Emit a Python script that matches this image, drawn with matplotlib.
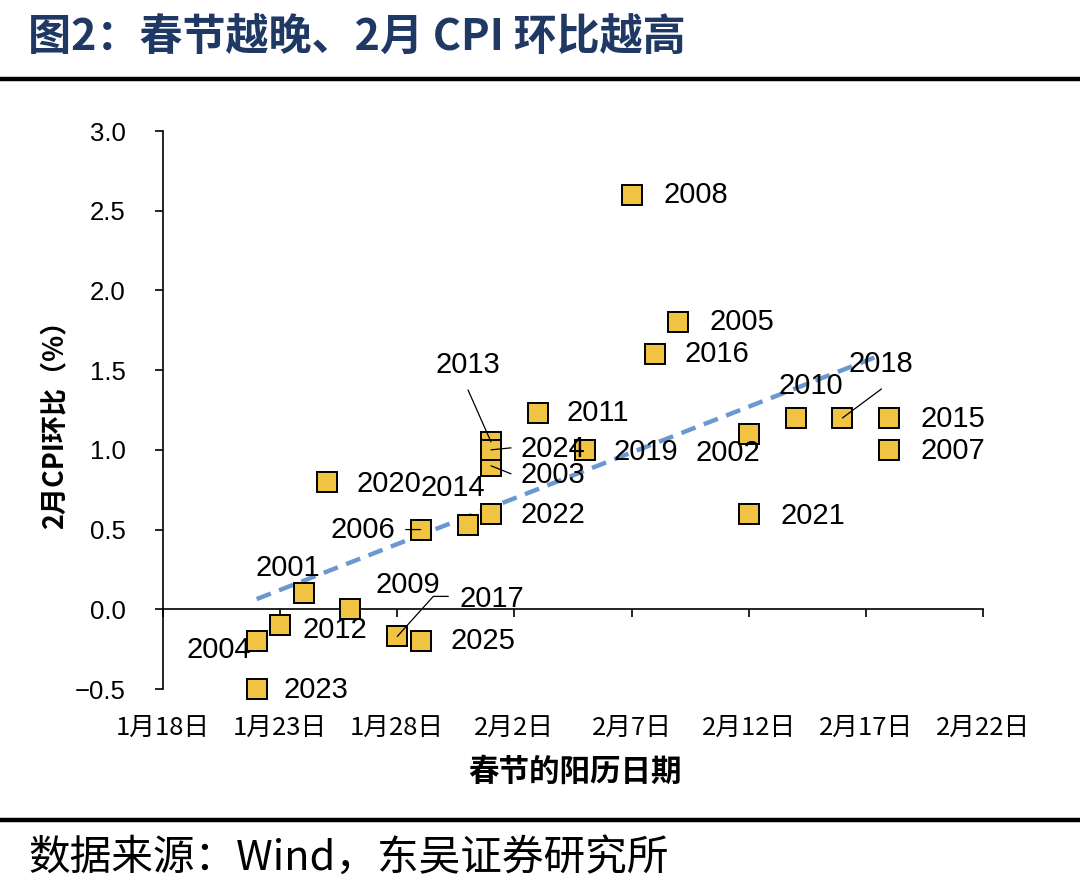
import numpy as np
import pandas as pd
import matplotlib
matplotlib.use("Agg")
import matplotlib.pyplot as plt
import matplotlib.dates as mdates

plt.rcParams['font.family'] = ['Liberation Sans', 'Noto Sans CJK SC', 'DejaVu Sans']

# ---- data ----
years = [2001, 2002, 2003, 2004, 2005, 2006, 2007, 2008, 2009, 2010,
         2011, 2012, 2013, 2014, 2015, 2016, 2017, 2018, 2019, 2020,
         2021, 2022, 2023, 2024, 2025]
festival_dates = ["01-24", "02-12", "02-01", "01-22", "02-09", "01-29", "02-18", "02-07", "01-26", "02-14",
                  "02-03", "01-23", "02-01", "01-31", "02-18", "02-08", "01-28", "02-16", "02-05", "01-25",
                  "02-12", "02-01", "01-22", "02-01", "01-29"]
cpi_mom = [0.10, 1.10, 0.90, -0.20, 1.80, 0.50, 1.00, 2.60, 0.00, 1.20,
           1.23, -0.10, 1.05, 0.53, 1.20, 1.60, -0.17, 1.20, 1.00, 0.80,
           0.60, 0.60, -0.50, 1.00, -0.20]
tick_dates = ["01-18", "01-23", "01-28", "02-02", "02-07", "02-12", "02-17", "02-22"]
tick_labels = ["1月18日", "1月23日", "1月28日", "2月2日", "2月7日", "2月12日", "2月17日", "2月22日"]
y_ticks = [-0.5, 0.0, 0.5, 1.0, 1.5, 2.0, 2.5, 3.0]

title = "图2：春节越晚、2月 CPI 环比越高"
source = "数据来源：Wind，东吴证券研究所"
xlabel = "春节的阳历日期"
ylabel = "2月CPI环比（%）"

# ---- label layout (pixel offsets from marker) ----
label_pos = {
    2008: (32, 0, 'left'), 2005: (31, 0, 'left'), 2016: (30, 0, 'left'),
    2011: (29, 0, 'left'), 2019: (29, -2, 'left'), 2002: (-53, -19, 'left'),
    2021: (32, -2, 'left'), 2010: (15, 32, 'center'), 2018: (6, 54, 'left'),
    2013: (-23, 77, 'center'), 2024: (30, 1, 'left'), 2003: (30, -9, 'left'),
    2022: (30, -1, 'left'), 2014: (-15, 37, 'center'), 2006: (-25, 0, 'right'),
    2020: (30, -2, 'left'), 2001: (-16, 25, 'center'), 2012: (22, -5, 'left'),
    2009: (25, 24, 'left'), 2017: (62, 37, 'left'), 2025: (30, 0, 'left'),
    2004: (-6, -9, 'right'), 2023: (27, -1, 'left'), 2015: (31, -1, 'left'),
    2007: (31, -1, 'left'),
}
leaders = {2018: (39, 29), 2013: (-23, 52), 2024: (20, 2), 2003: (20, -8), 2006: (-15, 0)}

def to_date(s):
    return pd.Timestamp("2001-" + s)

x_dates = [to_date(s) for s in festival_dates]
x_num = mdates.date2num(x_dates)
y = np.array(cpi_mom)

W, H = 1080, 896
fig = plt.figure(figsize=(W / 100, H / 100), dpi=100)
ax = fig.add_axes([163 / W, 1 - 689 / H, (983 - 163) / W, (689 - 131) / H])

ax.set_xlim(mdates.date2num(to_date("01-18")), mdates.date2num(to_date("02-22")))
ax.set_ylim(-0.5, 3.0)

# trend line
k, b = np.polyfit(x_num, y, 1)
xt = np.array([x_num.min(), x_num.max() - 0.5])
ax.plot(xt, k * xt + b, color='#6C98D2', lw=3.2, ls=(0, (3.4, 2.0)), zorder=2, solid_capstyle='butt')

ax.plot(x_num, y, ls='none', marker='s', ms=14.5, mfc='#F1C343', mec='black', mew=1.4, zorder=3,
        clip_on=False)

for yr, xx, yy in zip(years, x_num, y):
    dx, dy, ha = label_pos[yr]
    ax.annotate(str(yr), (xx, yy), xytext=(dx, dy), textcoords='offset pixels',
                ha=ha, va='center', fontsize=21, family=['Liberation Sans'], zorder=4)
    if yr in leaders:
        lx, ly = leaders[yr]
        ax.annotate('', (xx, yy), xytext=(lx, ly), textcoords='offset pixels',
                    arrowprops=dict(arrowstyle='-', color='black', lw=0.9, shrinkA=0, shrinkB=0), zorder=4)
    if yr == 2017:
        ax.annotate('', (xx, yy), xytext=(51, 40), textcoords='offset pixels',
                    arrowprops=dict(arrowstyle='-', color='black', lw=0.9, shrinkA=0, shrinkB=0,
                                    connectionstyle='angle,angleA=0,angleB=48,rad=0'), zorder=4)

# axes styling
for s in ['top', 'right']:
    ax.spines[s].set_visible(False)
ax.spines['bottom'].set_position(('data', 0))
ax.spines['left'].set_linewidth(1.2)
ax.spines['bottom'].set_linewidth(1.2)

ax.set_xticks([mdates.date2num(to_date(s)) for s in tick_dates])
ax.set_xticklabels(tick_labels, family=['Liberation Sans Narrow', 'Noto Sans CJK SC'], fontsize=18.5)
ax.tick_params(axis='x', direction='out', length=6, width=1.2, pad=70)
ax.set_yticks(y_ticks)
ax.set_yticklabels([f"{v:.1f}".replace('-', '\u2212') for v in y_ticks], family=['Liberation Sans'],
                   fontsize=18.5)
ax.tick_params(axis='y', direction='out', length=6, width=1.2, pad=21)

fig.text(575 / W, 1 - 772 / H, xlabel, ha='center', va='center', fontsize=22, fontweight='bold',
         family=['Noto Sans CJK SC'])
fig.text(54 / W, 1 - 418 / H, ylabel, ha='center', va='center', rotation=90, fontsize=19.5,
         fontweight='bold', family=['Noto Sans CJK SC'])

# header / footer
fig.text(28 / W, 1 - 38 / H, title, ha='left', va='center', fontsize=31, fontweight='bold',
         color='#1F3864', family=['Noto Sans CJK SC'])
fig.add_artist(plt.Line2D([0, 1], [1 - 79 / H, 1 - 79 / H], color='black', lw=3.2, transform=fig.transFigure))
fig.add_artist(plt.Line2D([0, 1], [1 - 820 / H, 1 - 820 / H], color='black', lw=3.2, transform=fig.transFigure))
fig.text(28 / W, 1 - 858 / H, source, ha='left', va='center', fontsize=30, color='black',
         family=['Noto Sans CJK SC'])

fig.savefig("out.png", dpi=100)
